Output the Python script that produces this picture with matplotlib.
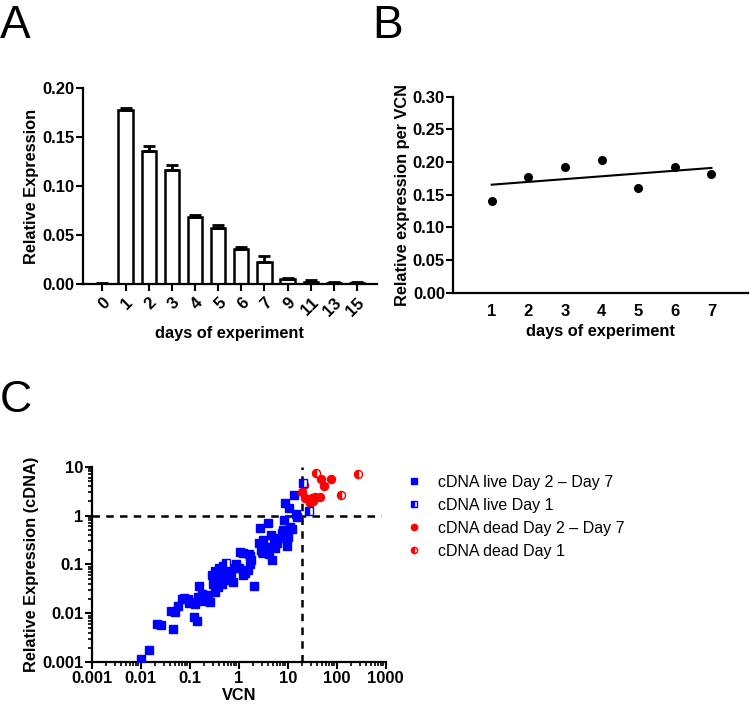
import numpy as np
import matplotlib
matplotlib.use("Agg")
import matplotlib.pyplot as plt
from matplotlib.lines import Line2D
from matplotlib.ticker import LogLocator

plt.rcParams['font.family'] = ['Liberation Sans', 'DejaVu Sans']

# Panel A: relative expression per day
days_a = ['0', '1', '2', '3', '4', '5', '6', '7', '9', '11', '13', '15']
expr_a = [0.0004, 0.178, 0.136, 0.1165, 0.0688, 0.0576, 0.0358, 0.0228, 0.0048, 0.0024, 0.001, 0.0013]
err_a = [0.0004, 0.002, 0.005, 0.005, 0.0015, 0.003, 0.002, 0.0058, 0.001, 0.002, 0.0008, 0.0008]

# Panel B: relative expression per VCN
days_b = [1, 2, 3, 4, 5, 6, 7]
expr_b = [0.1408, 0.1765, 0.193, 0.203, 0.161, 0.192, 0.181]

# Panel C: VCN vs relative expression
live_vcn = [0.010, 0.015, 0.021, 0.026, 0.045, 0.041, 0.050, 0.057, 0.076, 0.093,
            0.12, 0.12, 0.138, 0.157, 0.13, 0.177, 0.15, 0.24, 0.26, 0.33,
            0.33, 0.34, 0.385, 0.37, 0.47, 0.40, 0.36, 0.50, 0.55, 0.66,
            0.75, 0.84, 0.62, 1.07, 1.2, 1.35, 1.2, 1.58, 1.66, 1.76,
            1.6, 1.7, 2.05, 2.72, 2.6, 3.2, 3.1, 3.7, 4.0, 4.2,
            4.7, 4.5, 6.0, 5.5, 6.5, 7.6, 8.4, 8.9, 9.6, 10.3,
            10.7, 11.1, 12.5, 13.4, 14.5, 15.8, 0.9, 1.0, 3.0, 2.8,
            0.3, 0.45, 0.7, 0.22, 0.18, 5.2, 8.0, 0.095, 0.068, 0.29]
live_expr = [0.00115, 0.0018, 0.0062, 0.0059, 0.0049, 0.011, 0.0105, 0.014, 0.021, 0.0195,
             0.0175, 0.0083, 0.0071, 0.037, 0.0155, 0.018, 0.022, 0.024, 0.017, 0.028,
             0.074, 0.052, 0.035, 0.045, 0.091, 0.085, 0.065, 0.06, 0.05, 0.048,
             0.043, 0.083, 0.07, 0.18, 0.17, 0.066, 0.06, 0.078, 0.148, 0.126,
             0.164, 0.1, 0.036, 0.55, 0.27, 0.17, 0.32, 0.23, 0.72, 0.166,
             0.125, 0.4, 0.27, 0.22, 0.34, 0.44, 0.81, 1.8, 0.24, 0.37,
             1.45, 0.59, 0.52, 2.6, 1.08, 0.95, 0.1, 0.085, 0.18, 0.2,
             0.04, 0.04, 0.055, 0.02, 0.025, 0.3, 0.5, 0.016, 0.02, 0.06]
live1_vcn = [0.55, 20.4, 27.7]
live1_expr = [0.105, 4.6, 1.24]
dead_vcn = [19.4, 22.6, 30.6, 36, 44.7, 28.5, 33, 21, 48, 54, 76]
dead_expr = [3.0, 2.3, 2.3, 2.35, 2.4, 1.78, 2.0, 4.2, 5.5, 4.1, 5.5]
dead1_vcn = [38, 125, 275]
dead1_expr = [7.3, 2.6, 7.2]

labels_c = ['cDNA live Day 2 \u2013 Day 7', 'cDNA live Day 1',
            'cDNA dead Day 2 \u2013 Day 7', 'cDNA dead Day 1']

TICK_FS = 12
LABEL_FS = 11.8


def style_axes(ax):
    for s in ['top', 'right']:
        ax.spines[s].set_visible(False)
    for s in ['left', 'bottom']:
        ax.spines[s].set_linewidth(1.6)
    ax.tick_params(width=1.5, length=5, labelsize=TICK_FS, pad=1)
    for lab in ax.get_xticklabels() + ax.get_yticklabels():
        lab.set_fontweight('bold')


fig = plt.figure(figsize=(7.5, 7.06), dpi=100)

# ---- A ----
axA = fig.add_axes([0.1103, 0.5977, 0.392, 0.2772])
pos = np.arange(len(days_a))
axA.bar(pos, expr_a, width=0.62, color='white', edgecolor='black', linewidth=1.8, zorder=2)
axA.errorbar(pos, expr_a, yerr=[np.zeros(len(err_a)), err_a], fmt='none',
             ecolor='black', elinewidth=2, capsize=4, capthick=2, zorder=3)
axA.set_xlim(-0.85, 11.85)
axA.set_ylim(0, 0.2)
axA.set_yticks([0, 0.05, 0.10, 0.15, 0.20])
axA.set_yticklabels(['0.00', '0.05', '0.10', '0.15', '0.20'])
axA.set_xticks(pos)
axA.set_xticklabels(days_a, rotation=45, ha='right', rotation_mode='anchor')
axA.set_ylabel('Relative Expression', fontsize=LABEL_FS, fontweight='bold', labelpad=2)
axA.set_xlabel('days of experiment', fontsize=LABEL_FS, fontweight='bold', labelpad=5)
style_axes(axA)
axA.tick_params(axis='x', pad=3)

# ---- B ----
axB = fig.add_axes([0.6044, 0.5854, 0.393, 0.2776])
axB.plot(days_b, expr_b, 'o', color='black', markersize=5.5, zorder=3)
k, b = np.polyfit(days_b, expr_b, 1)
xs = np.array([days_b[0], days_b[-1]])
axB.plot(xs, k * xs + b, color='black', linewidth=1.5)
axB.set_xlim(-0.05, 8)
axB.set_ylim(0, 0.3)
axB.set_yticks(np.arange(0, 0.31, 0.05))
axB.set_yticklabels(['0.00', '0.05', '0.10', '0.15', '0.20', '0.25', '0.30'])
axB.set_xticks(days_b)
axB.set_ylabel('Relative expression per VCN', fontsize=LABEL_FS, fontweight='bold', labelpad=2)
axB.set_xlabel('days of experiment', fontsize=LABEL_FS, fontweight='bold', labelpad=4)
style_axes(axB)
axB.tick_params(axis='x', length=0, pad=8)

# ---- C ----
axC = fig.add_axes([0.1223, 0.0619, 0.392, 0.2771])
axC.set_xscale('log')
axC.set_yscale('log')
ms = 5.5
axC.plot(live_vcn, live_expr, 's', color='blue', markersize=ms, linestyle='none', zorder=3)
axC.plot(dead_vcn, dead_expr, 'o', color='red', markersize=ms + 0.3, linestyle='none', zorder=3)
axC.plot(live1_vcn, live1_expr, 's', color='blue', markerfacecoloralt='white', fillstyle='left',
         markersize=ms, linestyle='none', zorder=4)
axC.plot(dead1_vcn, dead1_expr, 'o', color='red', markerfacecoloralt='white', fillstyle='left',
         markersize=ms + 0.3, linestyle='none', zorder=4)
axC.plot([0.001, 800], [1, 1], color='black', linestyle=(0, (3, 2.5)), linewidth=1.8, zorder=2)
axC.axvline(20, color='black', linestyle=(0, (3, 2.5)), linewidth=1.8, zorder=2)
axC.set_xlim(0.001, 1000)
axC.set_ylim(0.001, 10)
axC.set_xticks([0.001, 0.01, 0.1, 1, 10, 100, 1000])
axC.set_xticklabels(['0.001', '0.01', '0.1', '1', '10', '100', '1000'])
axC.set_yticks([0.001, 0.01, 0.1, 1, 10])
axC.set_yticklabels(['0.001', '0.01', '0.1', '1', '10'])
axC.xaxis.set_minor_locator(LogLocator(base=10, subs=np.arange(2, 10)))
axC.yaxis.set_minor_locator(LogLocator(base=10, subs=np.arange(2, 10)))
axC.set_ylabel('Relative Expression (cDNA)', fontsize=LABEL_FS, fontweight='bold', labelpad=2)
axC.set_xlabel('VCN', fontsize=LABEL_FS, fontweight='bold', labelpad=2)
style_axes(axC)
axC.tick_params(which='minor', width=1.2, length=3)

handles = [
    Line2D([], [], marker='s', color='blue', linestyle='none', markersize=4.5),
    Line2D([], [], marker='s', color='blue', markerfacecoloralt='white', fillstyle='left',
           linestyle='none', markersize=4.5),
    Line2D([], [], marker='o', color='red', linestyle='none', markersize=4.5),
    Line2D([], [], marker='o', color='red', markerfacecoloralt='white', fillstyle='left',
           linestyle='none', markersize=4.5),
]
fig.legend(handles, labels_c, loc='upper left', bbox_to_anchor=(0.522, 0.348),
           frameon=False, fontsize=11.5, handlelength=1.0, handletextpad=1.0,
           labelspacing=0.5)

# panel letters
fig.text(0.0, 0.995, 'A', fontsize=33, va='top', ha='left')
fig.text(0.497, 0.995, 'B', fontsize=33, va='top', ha='left')
fig.text(0.0, 0.462, 'C', fontsize=32, va='top', ha='left')

fig.savefig('out.png', dpi=100)
